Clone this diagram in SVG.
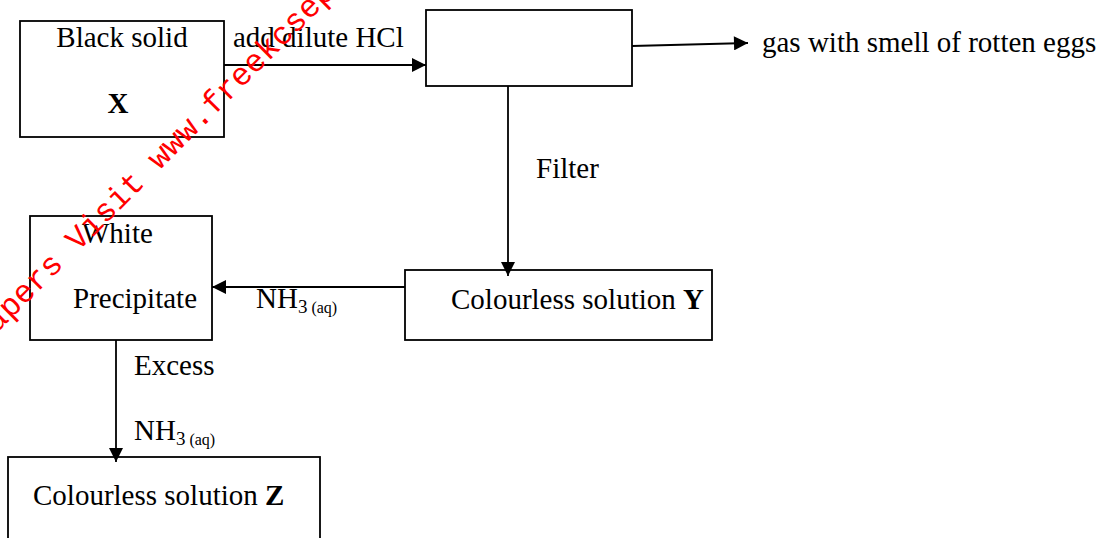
<svg xmlns="http://www.w3.org/2000/svg" width="1103" height="538" viewBox="0 0 1103 538">
<defs>
<style>
.box{fill:none;stroke:#000;stroke-width:1.8}
.ln{fill:none;stroke:#000;stroke-width:1.8}
.t{font-family:"Liberation Serif","Times New Roman",serif;font-size:29px;fill:#000}
.b{font-weight:bold}
.sub{font-size:19px}
.aq{font-size:16px}
.wm{font-family:"Liberation Mono","Courier New",monospace;font-size:32px;fill:#ff0000}
</style>
<marker id="ahL" viewBox="0 0 10 10" refX="10" refY="5" markerWidth="15" markerHeight="14" markerUnits="userSpaceOnUse" orient="auto">
<path d="M0,0 L10,5 L0,10 Z" fill="#000"/>
</marker>
</defs>
<g id="connectors">
<line class="ln" x1="224" y1="65" x2="426" y2="65" marker-end="url(#ahL)"/>
<line class="ln" x1="632" y1="46" x2="748" y2="43" marker-end="url(#ahL)"/>
<line class="ln" x1="508" y1="86" x2="508" y2="276" marker-end="url(#ahL)"/>
<line class="ln" x1="405" y1="287" x2="212" y2="287" marker-end="url(#ahL)"/>
<line class="ln" x1="116" y1="340" x2="116" y2="462" marker-end="url(#ahL)"/>
<text class="t" x="233" y="47">add dilute HCl</text>
<text class="t" x="762" y="52">gas with smell of rotten eggs</text>
<text class="t" x="536" y="178">Filter</text>
<text class="t" x="256" y="308">NH<tspan class="sub" dy="5">3</tspan><tspan class="aq"> (aq)</tspan></text>
<text class="t" x="134" y="375">Excess</text>
<text class="t" x="134" y="440">NH<tspan class="sub" dy="5">3</tspan><tspan class="aq"> (aq)</tspan></text>
</g>
<g id="node-x">
<rect class="box" x="20" y="21" width="204" height="116"/>
<text class="t" x="122" y="47" text-anchor="middle">Black solid</text>
<text class="t b" x="118" y="113" text-anchor="middle">X</text>
</g>
<g id="node-mix">
<rect class="box" x="426" y="10" width="206" height="76"/>
</g>
<g id="node-y">
<rect class="box" x="405" y="270" width="307" height="70"/>
<text class="t" x="451" y="309">Colourless solution <tspan class="b">Y</tspan></text>
</g>
<g id="node-precipitate">
<rect class="box" x="30" y="216" width="182" height="124"/>
<text class="t" x="82" y="243">White</text>
<text class="t" x="73" y="308">Precipitate</text>
</g>
<g id="node-z">
<rect class="box" x="8" y="457" width="312" height="100"/>
<text class="t" x="33" y="505">Colourless solution <tspan class="b">Z</tspan></text>
</g>
<text class="wm" x="-17" y="347" transform="rotate(-45 -17 347)">Papers Visit www.freekcsepastpapers.com</text>
</svg>
